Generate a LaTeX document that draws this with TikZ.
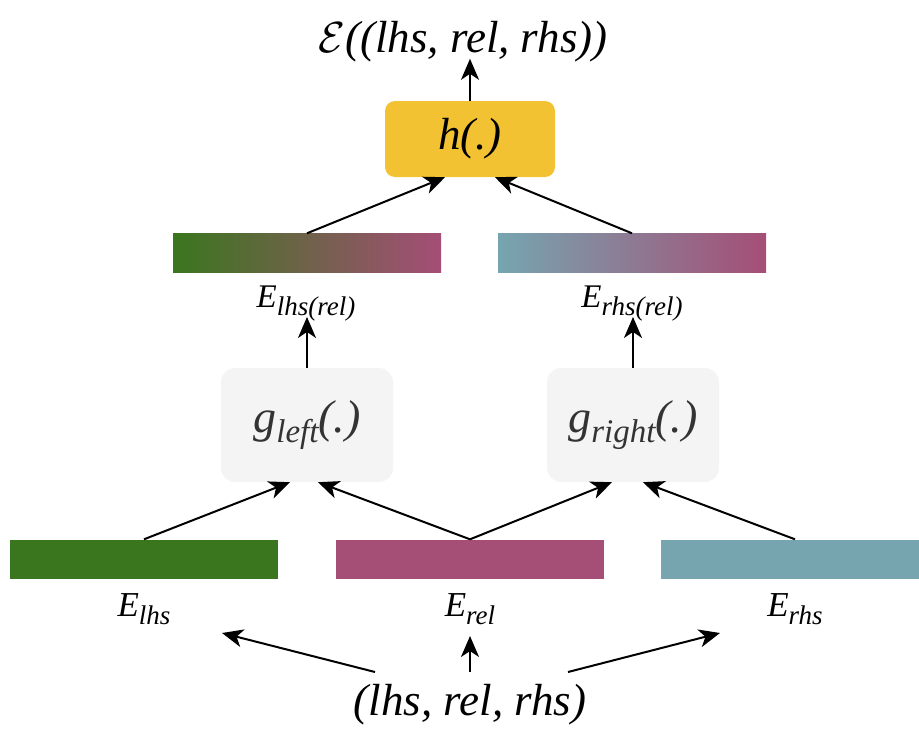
\documentclass[tikz,border=0pt]{standalone}
\usepackage{fontspec}
\usepackage{graphicx}
\setmainfont{Liberation Serif}
\newfontfamily\serifit{Liberation Serif Italic}
\usetikzlibrary{arrows.meta}
\definecolor{embgreen}{HTML}{3A761E}
\definecolor{embpink}{HTML}{A54E76}
\definecolor{embteal}{HTML}{76A5B0}
\definecolor{hgold}{HTML}{F2C232}
\definecolor{gboxfill}{HTML}{F4F4F4}
\definecolor{gtext}{HTML}{333333}
\newcommand{\sz}[1]{\fontsize{#1}{#1}\selectfont}
% embedding label: E with a lowered subscript
\newcommand{\Emb}[2][27]{E\raisebox{-8pt}{\sz{#1}#2}}
\tikzset{
  conn/.style={line width=2pt, -{Stealth[length=21pt,width=18pt,inset=6pt]}},
  bar/.style={minimum width=268pt, minimum height=39pt, inner sep=0pt},
  gbox/.style={fill=gboxfill, rounded corners=14pt, minimum width=172pt, minimum height=114pt,
    inner sep=0pt, text=gtext, font=\sz{46}\serifit},
  lbl/.style={inner sep=0pt, anchor=base, font=\sz{33}\serifit},
  lblb/.style={lbl, font=\sz{35}\serifit},
  bigtext/.style={inner sep=0pt, anchor=base, font=\sz{45}\serifit},
}
\begin{document}
\begin{tikzpicture}[x=1pt, y=-1pt]
\useasboundingbox (0,0) rectangle (919,731);

% output score
\node[bigtext] (score) at (463,52) {\scalebox{1.75}{$\mathcal{E}$}((lhs, rel, rhs))};

% combination function
\node[fill=hgold, rounded corners=10pt, minimum width=170pt, minimum height=76pt,
      inner sep=0pt, font=\sz{45}\serifit] (h) at (470,139) {h(.)};

% relation-specific embeddings
\node[bar, left color=embgreen, right color=embpink] (elr) at (307,253) {};
\node[bar, left color=embteal, right color=embpink] (err) at (632,253) {};
\node[lbl] (elrl) at (306,307) {\Emb{lhs(rel)}};
\node[lbl] (errl) at (632,307) {\Emb{rhs(rel)}};

% projection functions
\node[gbox] (gl) at (307,425) {g\raisebox{-0.22em}{\sz{33}left}(.)};
\node[gbox] (gr) at (633,425) {g\raisebox{-0.22em}{\sz{33}right}(.)};

% base embeddings
\node[bar, fill=embgreen] (el) at (144,559) {};
\node[bar, fill=embpink] (er) at (470,559) {};
\node[bar, fill=embteal] (eh) at (795,559) {};
\node[lblb] (ell) at (144,616) {\Emb{lhs}};
\node[lblb] (erl) at (470,616) {\Emb{rel}};
\node[lblb] (ehl) at (795,616) {\Emb{rhs}};

% input triple
\node[bigtext] (triple) at (470,715) {(lhs, rel, rhs)};

% connectors
\coordinate (tl) at (375,672);
\coordinate (tm) at (470,672);
\coordinate (tr) at (568,672);
\coordinate (al) at (222,633);
\coordinate (am) at (470,636);
\coordinate (ar) at (720,633);
\draw[conn] (tl) -- (al);
\draw[conn] (tm) -- (am);
\draw[conn] (tr) -- (ar);

\draw[conn] (el.north) -- ([xshift=-17pt]gl.south);
\draw[conn] (er.north) -- ([xshift=11pt]gl.south);
\draw[conn] (er.north) -- ([xshift=-21pt]gr.south);
\draw[conn] (eh.north) -- ([xshift=10pt]gr.south);

\draw[conn] (gl.north) -- ([yshift=4pt]gl.north |- elrl.south);
\draw[conn] (gr.north) -- ([yshift=4pt]gr.north |- errl.south);

\draw[conn] (elr.north) -- ([xshift=-25pt]h.south);
\draw[conn] (err.north) -- ([xshift=25pt]h.south);

\draw[conn] (h.north) -- ([yshift=3pt]h.north |- score.south);
\end{tikzpicture}
\end{document}
